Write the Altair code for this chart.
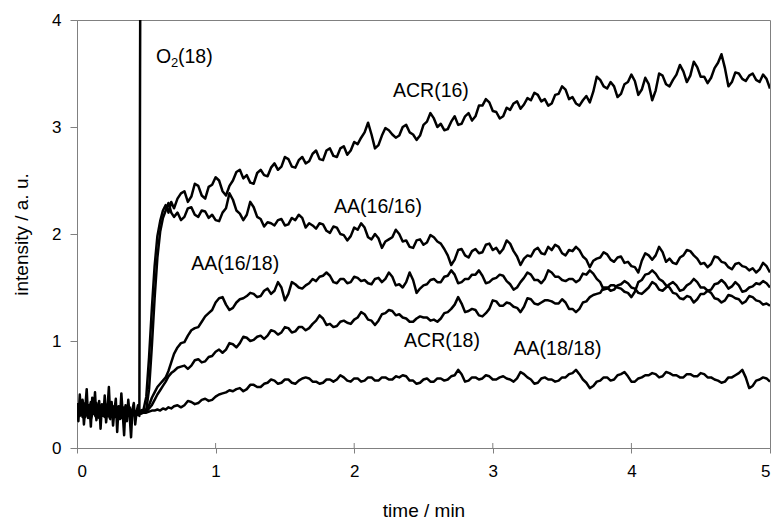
import altair as alt
import pandas as pd

# ---------------- data ----------------
time_early = [0.00, 0.02, 0.04, 0.06, 0.08, 0.10, 0.12, 0.14, 0.16, 0.18, 0.20, 0.22,
              0.24, 0.26, 0.28, 0.30, 0.32, 0.34, 0.36, 0.38, 0.40, 0.42, 0.44, 0.46,
              0.48, 0.50, 0.52, 0.54, 0.56, 0.58, 0.60, 0.62, 0.64, 0.66, 0.68, 0.70]
time_main = [0.75, 0.80, 0.85, 0.90, 0.95, 1.00, 1.05, 1.10, 1.15, 1.20,
             1.25, 1.30, 1.35, 1.40, 1.45, 1.50, 1.55, 1.60, 1.65, 1.70,
             1.75, 1.80, 1.85, 1.90, 1.95, 2.00, 2.05, 2.10, 2.15, 2.20,
             2.25, 2.30, 2.35, 2.40, 2.45, 2.50, 2.55, 2.60, 2.65, 2.70,
             2.75, 2.80, 2.85, 2.90, 2.95, 3.00, 3.05, 3.10, 3.15, 3.20,
             3.25, 3.30, 3.35, 3.40, 3.45, 3.50, 3.55, 3.60, 3.65, 3.70,
             3.75, 3.80, 3.85, 3.90, 3.95, 4.00, 4.05, 4.10, 4.15, 4.20,
             4.25, 4.30, 4.35, 4.40, 4.45, 4.50, 4.55, 4.60, 4.65, 4.70,
             4.75, 4.80, 4.85, 4.90, 4.95, 5.00]
time_mid = [0.725, 0.775, 0.825, 0.875, 0.925, 0.975, 1.025, 1.075, 1.125, 1.175,
            1.225, 1.275, 1.325, 1.375, 1.425, 1.475, 1.525, 1.575, 1.625, 1.675,
            1.725, 1.775, 1.825, 1.875, 1.925, 1.975, 2.025, 2.075, 2.125, 2.175,
            2.225, 2.275, 2.325, 2.375, 2.425, 2.475, 2.525, 2.575, 2.625, 2.675,
            2.725, 2.775, 2.825, 2.875, 2.925, 2.975, 3.025, 3.075, 3.125, 3.175,
            3.225, 3.275, 3.325, 3.375, 3.425, 3.475, 3.525, 3.575, 3.625, 3.675,
            3.725, 3.775, 3.825, 3.875, 3.925, 3.975, 4.025, 4.075, 4.125, 4.175,
            4.225, 4.275, 4.325, 4.375, 4.425, 4.475, 4.525, 4.575, 4.625, 4.675,
            4.725, 4.775, 4.825, 4.875, 4.925, 4.975]
time = time_early + time_main + time_mid

acr16 = [0.38, 0.30, 0.44, 0.33, 0.40, 0.27, 0.36, 0.42, 0.31, 0.35, 0.29, 0.39,
         0.34, 0.30, 0.37, 0.33, 0.28, 0.36, 0.32, 0.38, 0.30, 0.34, 0.31, 0.35,
         0.36, 0.48, 0.85, 1.30, 1.70, 1.98, 2.12, 2.22, 2.27, 2.20, 2.30, 2.24,
         2.38, 2.30, 2.47, 2.36, 2.44, 2.53, 2.40, 2.45, 2.58, 2.52,
         2.48, 2.57, 2.55, 2.62, 2.60, 2.72, 2.63, 2.69, 2.66, 2.75,
         2.70, 2.78, 2.73, 2.80, 2.74, 2.86, 2.90, 3.04, 2.80, 2.92,
         2.97, 2.90, 3.00, 2.95, 2.88, 3.02, 3.13, 3.00, 2.97, 3.05,
         3.02, 3.10, 3.06, 3.20, 3.26, 3.15, 3.08, 3.18, 3.22, 3.17,
         3.27, 3.32, 3.24, 3.20, 3.30, 3.38, 3.26, 3.22, 3.25, 3.23,
         3.47, 3.38, 3.42, 3.28, 3.40, 3.49, 3.30, 3.46, 3.25, 3.50,
         3.40, 3.44, 3.58, 3.42, 3.61, 3.47, 3.41, 3.55, 3.68, 3.38,
         3.51, 3.45, 3.48, 3.44, 3.49, 3.36,
         # mid points
         2.33, 2.40, 2.35, 2.45, 2.33, 2.46, 2.50, 2.36, 2.50, 2.60,
         2.55, 2.47, 2.60, 2.54, 2.66, 2.63, 2.70, 2.62, 2.72, 2.68,
         2.78, 2.69, 2.80, 2.72, 2.82, 2.78, 2.84, 2.95, 2.93, 2.83,
         2.99, 2.93, 2.92, 3.02, 2.93, 2.92, 3.05, 3.08, 3.03, 2.98,
         3.10, 3.03, 3.13, 3.10, 3.20, 3.23, 3.14, 3.10, 3.16, 3.24,
         3.21, 3.25, 3.30, 3.26, 3.22, 3.31, 3.35, 3.28, 3.20, 3.29,
         3.33, 3.44, 3.36, 3.38, 3.31, 3.42, 3.43, 3.35, 3.40, 3.34,
         3.48, 3.38, 3.49, 3.52, 3.48, 3.56, 3.47, 3.46, 3.60, 3.55,
         3.42, 3.50, 3.43, 3.50, 3.42, 3.45]

aa1616 = [0.33, 0.40, 0.29, 0.36, 0.31, 0.43, 0.34, 0.28, 0.38, 0.32, 0.41, 0.30,
          0.36, 0.39, 0.29, 0.35, 0.40, 0.31, 0.37, 0.33, 0.36, 0.30, 0.34, 0.33,
          0.34, 0.36, 0.55, 0.95, 1.40, 1.78, 2.02, 2.15, 2.22, 2.29, 2.20, 2.16,
          2.13, 2.24, 2.18, 2.22, 2.15, 2.13, 2.20, 2.38, 2.22, 2.13,
          2.30, 2.16, 2.07, 2.10, 2.13, 2.08, 2.15, 2.18, 2.06, 2.08,
          2.10, 2.03, 2.07, 2.00, 1.94, 2.06, 2.10, 1.97, 2.00, 1.87,
          1.95, 2.04, 1.93, 1.88, 1.94, 1.90, 1.99, 1.93, 1.86, 1.71,
          1.85, 1.80, 1.84, 1.82, 1.90, 1.85, 1.82, 1.94, 1.84, 1.71,
          1.80, 1.85, 1.82, 1.88, 1.90, 1.82, 1.85, 1.88, 1.79, 1.69,
          1.77, 1.83, 1.76, 1.78, 1.73, 1.70, 1.64, 1.82, 1.76, 1.88,
          1.74, 1.73, 1.78, 1.85, 1.80, 1.72, 1.69, 1.79, 1.74, 1.69,
          1.72, 1.70, 1.66, 1.64, 1.73, 1.64,
          # mid points
          2.20, 2.16, 2.25, 2.16, 2.21, 2.18, 2.12, 2.24, 2.32, 2.19,
          2.18, 2.25, 2.14, 2.11, 2.08, 2.14, 2.09, 2.13, 2.15, 2.10,
          2.05, 2.09, 2.01, 2.06, 1.99, 1.98, 2.04, 2.06, 1.95, 1.96,
          1.93, 1.97, 2.00, 1.94, 1.87, 1.95, 1.92, 1.97, 1.91, 1.80,
          1.76, 1.86, 1.78, 1.86, 1.83, 1.91, 1.87, 1.86, 1.91, 1.79,
          1.77, 1.79, 1.87, 1.81, 1.85, 1.88, 1.80, 1.84, 1.85, 1.76,
          1.75, 1.78, 1.81, 1.74, 1.79, 1.74, 1.69, 1.75, 1.80, 1.80,
          1.83, 1.77, 1.72, 1.80, 1.84, 1.77, 1.73, 1.72, 1.78, 1.73,
          1.67, 1.73, 1.69, 1.68, 1.67, 1.70]

aa1618 = [0.35, 0.31, 0.38, 0.42, 0.33, 0.29, 0.37, 0.34, 0.40, 0.30, 0.36, 0.33,
          0.27, 0.38, 0.35, 0.31, 0.39, 0.33, 0.30, 0.36, 0.34, 0.32, 0.35, 0.33,
          0.34, 0.36, 0.40, 0.47, 0.52, 0.57, 0.60, 0.63, 0.66, 0.72, 0.80, 0.88,
          0.98, 1.05, 1.12, 1.18, 1.26, 1.36, 1.41, 1.29, 1.36, 1.40,
          1.45, 1.41, 1.47, 1.44, 1.55, 1.38, 1.55, 1.50, 1.52, 1.58,
          1.60, 1.64, 1.55, 1.58, 1.54, 1.60, 1.56, 1.54, 1.58, 1.55,
          1.64, 1.52, 1.50, 1.64, 1.45, 1.52, 1.57, 1.55, 1.60, 1.66,
          1.54, 1.58, 1.62, 1.66, 1.54, 1.58, 1.62, 1.56, 1.48, 1.55,
          1.64, 1.57, 1.54, 1.66, 1.60, 1.57, 1.58, 1.55, 1.63, 1.66,
          1.58, 1.48, 1.52, 1.50, 1.46, 1.41, 1.55, 1.62, 1.66, 1.58,
          1.52, 1.45, 1.40, 1.42, 1.36, 1.44, 1.47, 1.40, 1.36, 1.43,
          1.40, 1.35, 1.42, 1.38, 1.34, 1.33,
          # mid points
          0.94, 0.99, 1.10, 1.13, 1.23, 1.29, 1.40, 1.34, 1.31, 1.39,
          1.42, 1.44, 1.42, 1.49, 1.47, 1.50, 1.44, 1.53, 1.49, 1.54,
          1.56, 1.61, 1.61, 1.54, 1.58, 1.55, 1.59, 1.57, 1.53, 1.59,
          1.58, 1.60, 1.53, 1.55, 1.57, 1.49, 1.53, 1.58, 1.55, 1.61,
          1.62, 1.55, 1.58, 1.62, 1.61, 1.55, 1.59, 1.61, 1.53, 1.50,
          1.59, 1.62, 1.57, 1.58, 1.64, 1.60, 1.56, 1.58, 1.57, 1.62,
          1.63, 1.55, 1.49, 1.52, 1.49, 1.45, 1.46, 1.57, 1.63, 1.63,
          1.56, 1.50, 1.44, 1.39, 1.41, 1.39, 1.44, 1.45, 1.39, 1.38,
          1.42, 1.39, 1.37, 1.41, 1.37, 1.35]

acr18 = [0.31, 0.37, 0.34, 0.29, 0.40, 0.35, 0.32, 0.38, 0.28, 0.36, 0.34, 0.41,
         0.31, 0.33, 0.37, 0.29, 0.35, 0.38, 0.32, 0.30, 0.35, 0.33, 0.31, 0.34,
         0.33, 0.34, 0.37, 0.40, 0.45, 0.50, 0.54, 0.58, 0.62, 0.67, 0.70, 0.72,
         0.76, 0.74, 0.82, 0.80, 0.85, 0.90, 0.89, 0.98, 0.94, 1.04,
         1.00, 1.04, 1.02, 1.10, 1.06, 1.13, 1.08, 1.13, 1.10, 1.16,
         1.24, 1.15, 1.13, 1.18, 1.17, 1.20, 1.27, 1.20, 1.15, 1.25,
         1.29, 1.24, 1.22, 1.18, 1.21, 1.22, 1.19, 1.18, 1.26, 1.30,
         1.41, 1.27, 1.30, 1.24, 1.26, 1.38, 1.33, 1.36, 1.32, 1.27,
         1.40, 1.35, 1.36, 1.38, 1.35, 1.39, 1.30, 1.27, 1.36, 1.41,
         1.44, 1.50, 1.47, 1.52, 1.56, 1.50, 1.45, 1.47, 1.55, 1.48,
         1.50, 1.55, 1.47, 1.52, 1.58, 1.50, 1.47, 1.53, 1.57, 1.49,
         1.55, 1.46, 1.50, 1.54, 1.56, 1.50,
         # mid points
         0.75, 0.77, 0.77, 0.83, 0.81, 0.86, 0.92, 0.92, 0.97, 0.98,
         1.03, 1.01, 1.05, 1.05, 1.09, 1.08, 1.12, 1.09, 1.13, 1.12,
         1.19, 1.21, 1.16, 1.14, 1.19, 1.16, 1.22, 1.25, 1.19, 1.19,
         1.26, 1.28, 1.25, 1.21, 1.18, 1.23, 1.22, 1.20, 1.21, 1.27,
         1.34, 1.35, 1.28, 1.29, 1.23, 1.30, 1.37, 1.33, 1.35, 1.31,
         1.32, 1.39, 1.34, 1.38, 1.37, 1.35, 1.36, 1.30, 1.30, 1.37,
         1.43, 1.45, 1.50, 1.48, 1.53, 1.54, 1.49, 1.44, 1.50, 1.53,
         1.47, 1.53, 1.52, 1.48, 1.54, 1.55, 1.50, 1.48, 1.54, 1.54,
         1.51, 1.52, 1.47, 1.51, 1.53, 1.54]

aa1818 = [0.36, 0.32, 0.39, 0.30, 0.35, 0.41, 0.33, 0.29, 0.37, 0.34, 0.31, 0.38,
          0.35, 0.30, 0.33, 0.37, 0.31, 0.34, 0.36, 0.30, 0.33, 0.32, 0.34, 0.32,
          0.33, 0.33, 0.34, 0.35, 0.35, 0.36, 0.35, 0.37, 0.36, 0.38, 0.37, 0.39,
          0.38, 0.44, 0.41, 0.45, 0.44, 0.48, 0.51, 0.54, 0.55, 0.53,
          0.59, 0.57, 0.60, 0.64, 0.60, 0.64, 0.61, 0.63, 0.66, 0.62,
          0.60, 0.64, 0.62, 0.68, 0.63, 0.65, 0.62, 0.66, 0.63, 0.66,
          0.64, 0.67, 0.68, 0.63, 0.60, 0.64, 0.62, 0.65, 0.63, 0.67,
          0.73, 0.62, 0.66, 0.64, 0.68, 0.64, 0.66, 0.65, 0.62, 0.71,
          0.66, 0.60, 0.65, 0.64, 0.62, 0.66, 0.69, 0.73, 0.64, 0.56,
          0.62, 0.66, 0.63, 0.68, 0.71, 0.62, 0.65, 0.68, 0.70, 0.66,
          0.71, 0.68, 0.66, 0.69, 0.67, 0.70, 0.66, 0.64, 0.61, 0.66,
          0.68, 0.73, 0.56, 0.63, 0.66, 0.62,
          # mid points
          0.40, 0.40, 0.43, 0.42, 0.46, 0.45, 0.50, 0.52, 0.53, 0.56,
          0.55, 0.59, 0.57, 0.61, 0.63, 0.61, 0.64, 0.60, 0.65, 0.65,
          0.62, 0.61, 0.64, 0.64, 0.66, 0.62, 0.65, 0.63, 0.66, 0.63,
          0.66, 0.64, 0.66, 0.67, 0.63, 0.61, 0.65, 0.62, 0.65, 0.64,
          0.68, 0.69, 0.63, 0.66, 0.65, 0.67, 0.64, 0.67, 0.64, 0.65,
          0.69, 0.64, 0.61, 0.66, 0.64, 0.63, 0.66, 0.70, 0.69, 0.61,
          0.58, 0.63, 0.66, 0.64, 0.69, 0.67, 0.62, 0.66, 0.68, 0.69,
          0.67, 0.70, 0.68, 0.66, 0.69, 0.67, 0.69, 0.66, 0.63, 0.62,
          0.66, 0.70, 0.66, 0.58, 0.64, 0.65]

o2_time = [0.00, 0.01, 0.02, 0.03, 0.04, 0.05, 0.06, 0.07, 0.08, 0.09,
           0.10, 0.11, 0.12, 0.13, 0.14, 0.15, 0.16, 0.17, 0.18, 0.19,
           0.20, 0.21, 0.22, 0.23, 0.24, 0.25, 0.26, 0.27, 0.28, 0.29,
           0.30, 0.31, 0.32, 0.33, 0.34, 0.35, 0.36, 0.37, 0.38, 0.39,
           0.40, 0.41, 0.42, 0.43, 0.44, 0.45, 0.455, 0.46]
o2_18 = [0.42, 0.25, 0.50, 0.31, 0.45, 0.22, 0.38, 0.55, 0.28, 0.40,
         0.20, 0.47, 0.33, 0.52, 0.26, 0.36, 0.44, 0.18, 0.41, 0.30,
         0.49, 0.24, 0.37, 0.57, 0.29, 0.43, 0.21, 0.35, 0.46, 0.15,
         0.39, 0.27, 0.51, 0.32, 0.12, 0.40, 0.25, 0.45, 0.30, 0.10,
         0.36, 0.42, 0.22, 0.34, 0.40, 0.30, 3.55, 6.00]

x_ticks = [0, 1, 2, 3, 4, 5]
y_ticks = [0, 1, 2, 3, 4]
inner_ticks = [1, 2, 3, 4]

label_text = ["ACR(16)", "AA(16/16)", "AA(16/18)", "ACR(18)", "AA(18/18)", "O"]
label_x = [2.28, 1.855, 0.825, 2.36, 3.15, 0.57]
label_y = [3.28, 2.195, 1.66, 0.945, 0.87, 3.60]
sub_text = ["2"]
sub_x = [0.57]
sub_y = [3.56]
tail_text = ["(18)"]
tail_x = [0.57]
tail_y = [3.60]

# ---------------- tables ----------------
series = {"ACR(16)": acr16, "AA(16/16)": aa1616, "AA(16/18)": aa1618,
          "ACR(18)": acr18, "AA(18/18)": aa1818}
rows = []
for name, vals in series.items():
    for t, v in zip(time, vals):
        rows.append({"series": name, "t": t, "v": v})
for t, v in zip(o2_time, o2_18):
    rows.append({"series": "O2(18)", "t": t, "v": v})
df = pd.DataFrame(rows).sort_values(["series", "t"]).reset_index(drop=True)

labels = pd.DataFrame({"text": label_text, "x": label_x, "y": label_y})
subs = pd.DataFrame({"text": sub_text, "x": sub_x, "y": sub_y})
tails = pd.DataFrame({"text": tail_text, "x": tail_x, "y": tail_y})
ticks_df = pd.DataFrame({"x": inner_ticks})

W, H = 693, 428
FONT = "Liberation Sans"
GRAY = "#808080"

xscale = alt.Scale(domain=[0, 5], nice=False, zero=False)
yscale = alt.Scale(domain=[0, 4], nice=False)

lines = alt.Chart(df).mark_line(color="black", strokeWidth=2.5, clip=True,
                                strokeJoin="round").encode(
    x=alt.X("t:Q", scale=xscale,
            axis=alt.Axis(title="time / min", values=x_ticks, format="d",
                          tickSize=5, labelPadding=10, titlePadding=22,
                          domainColor=GRAY, tickColor=GRAY, grid=False,
                          labelFontSize=17, titleFontSize=19)),
    y=alt.Y("v:Q", scale=yscale,
            axis=alt.Axis(title="intensity / a. u.", values=y_ticks, format="d",
                          tickSize=7, labelPadding=9, titlePadding=20,
                          domainColor=GRAY, tickColor=GRAY, grid=False,
                          labelFontSize=17, titleFontSize=19)),
    detail="series:N",
    order="t:Q",
)

inner = alt.Chart(ticks_df).mark_rule(color=GRAY, strokeWidth=1).encode(
    x=alt.X("x:Q", scale=xscale),
    y=alt.value(H - 5),
    y2=alt.value(H),
)

text = alt.Chart(labels).mark_text(align="left", baseline="alphabetic", font=FONT,
                                   fontSize=19.5, color="black").encode(
    x=alt.X("x:Q", scale=xscale),
    y=alt.Y("y:Q", scale=yscale),
    text="text:N",
)

sub = alt.Chart(subs).mark_text(align="left", baseline="alphabetic", font=FONT,
                                fontSize=13, dx=15, color="black").encode(
    x=alt.X("x:Q", scale=xscale),
    y=alt.Y("y:Q", scale=yscale),
    text="text:N",
)

tail = alt.Chart(tails).mark_text(align="left", baseline="alphabetic", font=FONT,
                                  fontSize=19.5, dx=22, color="black").encode(
    x=alt.X("x:Q", scale=xscale),
    y=alt.Y("y:Q", scale=yscale),
    text="text:N",
)

chart = alt.layer(lines, inner, text, sub, tail).properties(
    width=W, height=H,
    autosize=alt.AutoSizeParams(type="none"),
    padding={"left": 77, "top": 20, "right": 5, "bottom": 72},
    background="white",
).configure_view(
    stroke=GRAY, strokeWidth=1
).configure_axis(
    labelFont=FONT, titleFont=FONT, labelColor="black", titleColor="black",
    titleFontWeight="normal",
)

chart.save("out.html", embed_options={"renderer": "svg", "actions": False})
